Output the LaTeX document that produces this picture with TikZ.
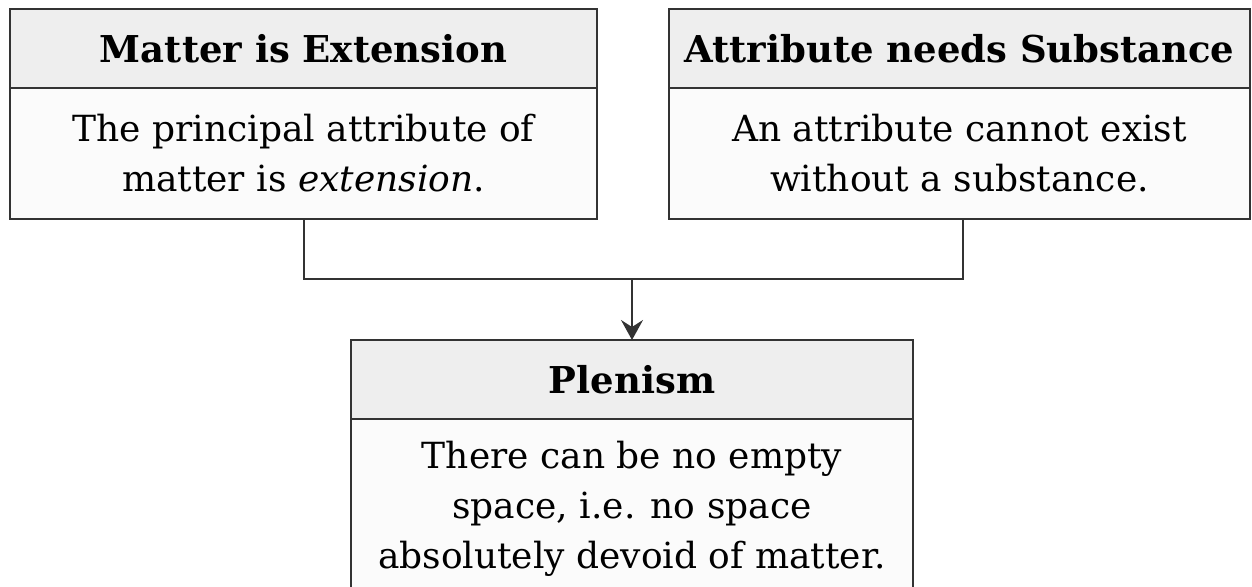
\documentclass[tikz,border=0pt]{standalone}
\usepackage{fontspec}
\setmainfont{DejaVu Serif}
\usetikzlibrary{arrows.meta}
\definecolor{edge}{HTML}{333333}
\definecolor{headfill}{HTML}{EEEEEE}
\definecolor{bodyfill}{HTML}{FBFBFB}
\tikzset{
  x=1pt,y=1pt,
  boxpart/.style={draw=edge, line width=2pt, inner sep=0pt, outer sep=0pt, anchor=north west},
  headbox/.style={boxpart, fill=headfill, font=\fontsize{37}{44}\selectfont\bfseries},
  bodybox/.style={boxpart, fill=bodyfill, align=center, font=\fontsize{36}{50}\selectfont},
  conn/.style={draw=edge, line width=2pt},
}
\begin{document}
\begin{tikzpicture}
\useasboundingbox (0,0) rectangle (1252,586);
\clip (0,0) rectangle (1252,586);
% box A
\node[headbox, minimum width=587, minimum height=79] (ah) at (10,577) {Matter is Extension};
\node[bodybox, minimum width=587, minimum height=131] (ab) at (10,498) {The principal attribute of\\matter is \textit{extension}.};
% box B
\node[headbox, minimum width=581, minimum height=79] (bh) at (669,577) {Attribute needs Substance};
\node[bodybox, minimum width=581, minimum height=131] (bb) at (669,498) {An attribute cannot exist\\without a substance.};
% box C
\node[headbox, minimum width=562, minimum height=79] (ch) at (351,246) {Plenism};
\node[bodybox, minimum width=562, minimum height=179] (cb) at (351,167) {There can be no empty\\space, i.e. no space\\absolutely devoid of matter.};
% connectors
\coordinate (j) at (ch.north |- 0,307);
\draw[conn] (ab.south) |- (j) -| ([xshift=3pt]bb.south);
\draw[conn, -{Stealth[length=20pt,width=22pt,inset=7pt]}] (j) -- (ch.north);
\end{tikzpicture}
\end{document}
